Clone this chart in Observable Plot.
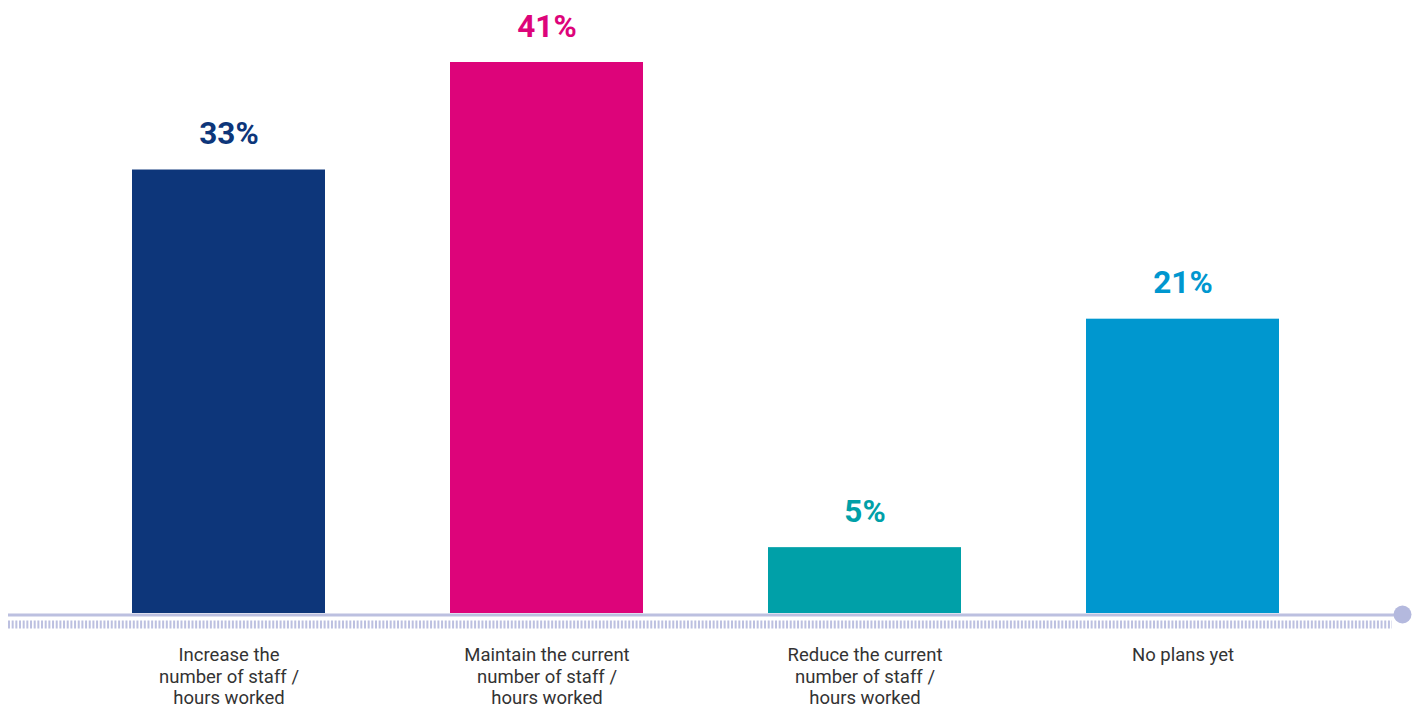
<!DOCTYPE html>
<html><head><meta charset="utf-8">
<script src="https://cdn.jsdelivr.net/npm/d3@7"></script>
<script src="https://cdn.jsdelivr.net/npm/@observablehq/plot@0.6"></script>
<style>body{margin:0;background:#fff}</style>
</head><body><div id="chart"></div>
<script>
const categories = [
  "Increase the\nnumber of staff /\nhours worked",
  "Maintain the current\nnumber of staff /\nhours worked",
  "Reduce the current\nnumber of staff /\nhours worked",
  "No plans yet"
];
const values = [33, 41, 4.9, 21.9];
const valueLabels = ["33%", "41%", "5%", "21%"];
const colors = ["#0d367a", "#dd047a", "#00a0a8", "#0097cf"];

const data = categories.map((c, i) => ({category: c, value: values[i], label: valueLabels[i], color: colors[i]}));

const plot = Plot.plot({
  width: 1420, height: 709,
  marginLeft: 8, marginRight: 18, marginTop: 0, marginBottom: 0,
  x: {domain: categories, paddingInner: 0.394, paddingOuter: 0.3864, axis: null},
  y: {domain: [0, 41], range: [613, 62], axis: null},
  style: {fontFamily: "Roboto, sans-serif", background: "#fff"},
  marks: [
    Plot.barY(data, {x: "category", y: "value", fill: "color"}),
    Plot.text(data, {x: "category", y: "value", text: "label", fill: "color", fontSize: 31.5, fontWeight: "bold", lineAnchor: "bottom", dy: -26}),
    Plot.ruleY([0], {stroke: "#bcc0e0", strokeWidth: 3, dy: 1.5}),
    Plot.ruleY([0], {stroke: "#bcc0e0", strokeWidth: 8, dy: 11, strokeDasharray: "2 1.67", insetRight: 10}),
    Plot.dot([0], {y: d => d, frameAnchor: "right", r: 9, fill: "#b4b9de", stroke: null, dy: 1}),
    Plot.text(data, {x: "category", y: 0, text: "category", lineAnchor: "top", dy: 33, fontSize: 18.5, fill: "#333", lineHeight: 1.14})
  ]
});
document.getElementById("chart").appendChild(plot);
</script>
</body></html>
